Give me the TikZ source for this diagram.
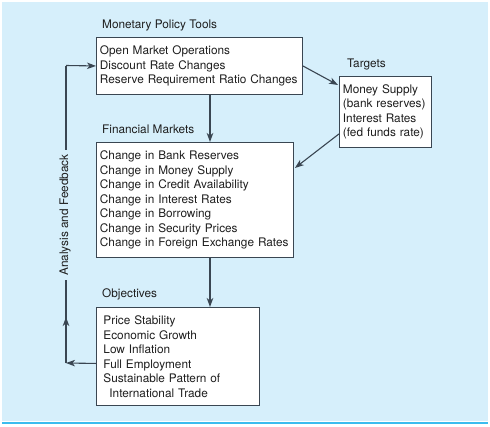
\documentclass[tikz,border=0pt]{standalone}
\usepackage{fontspec}
\setmainfont{TeX Gyre Heros}
\usetikzlibrary{arrows.meta,calc}
\definecolor{bg}{HTML}{D6EFFB}
\definecolor{rulec}{HTML}{3BBCEE}
\definecolor{ln}{HTML}{3A4652}
\definecolor{txt}{HTML}{1E1E1E}
\begin{document}
\begin{tikzpicture}[x=1pt,y=-1pt,
  font=\fontsize{11.8}{14.5}\selectfont, text=txt,
  box/.style={draw=ln, line width=0.9pt, fill=white, anchor=north west,
    inner xsep=3.5pt, inner ysep=0pt, align=left},
  ttl/.style={anchor=base west, inner sep=0pt},
  conn/.style={draw=ln, line width=1.1pt},
  arr/.style={conn, -{Stealth[length=9pt,width=6.5pt,inset=2.5pt]}}]
\useasboundingbox (0,0) rectangle (490,426);
\fill[bg] (2,2) rectangle (488,421);
\fill[rulec] (2,421.5) rectangle (488,424);

% titles
\node[ttl] (ttools) at (102,28) {Monetary Policy Tools};
\node[ttl] (ttargets) at (347,67) {Targets};
\node[ttl] (tfin) at (102,133) {Financial Markets};
\node[ttl] (tobj) at (102,297) {Objectives};

% boxes
\node[box, text width=199pt, minimum height=57pt] (tools) at (96,37)
  {Open Market Operations\\Discount Rate Changes\\Reserve Requirement Ratio Changes};
\node[box, text width=85pt, minimum height=71pt] (targets) at (339,76)
  {Money Supply\\(bank reserves)\\Interest Rates\\(fed funds rate)};
\node[box, text width=190pt, minimum height=115pt] (fin) at (96,142)
  {Change in Bank Reserves\\Change in Money Supply\\Change in Credit Availability\\Change in Interest Rates\\Change in Borrowing\\Change in Security Prices\\Change in Foreign Exchange Rates};
\node[box, inner xsep=7pt, text width=149pt, minimum height=98pt] (obj) at (96,307)
  {Price Stability\\Economic Growth\\Low Inflation\\Full Employment\\Sustainable Pattern of\\\hspace*{6pt}International Trade};

% helper coordinates
\coordinate (cx) at (210,0);
\coordinate (fbl) at (66,363);
\coordinate (fbm) at (66,317);
\coordinate (fbt) at (66,65.5);

% connectors
\draw[arr] (tools.south -| cx) -- (fin.north -| cx);
\draw[arr] (fin.south -| cx) -- (obj.north -| cx);
\draw[arr] (tools.east) -- ($(targets.north west)+(-1,9)$);
\draw[arr] ($(targets.south west)+(0,-14)$) -- ($(fin.north east)+(1,26)$);

% feedback loop
\draw[conn] (fbl) -- (fbt);
\draw[arr] ($(obj.west)+(0,7)$) -- (fbl);
\draw[arr] (fbl) -- (fbm);
\draw[arr] (fbt) -- (tools.west);
\node[fill=bg, rotate=90, inner xsep=4pt, inner ysep=2pt] (fblabel) at (65,215) {Analysis and Feedback};
\end{tikzpicture}
\end{document}
